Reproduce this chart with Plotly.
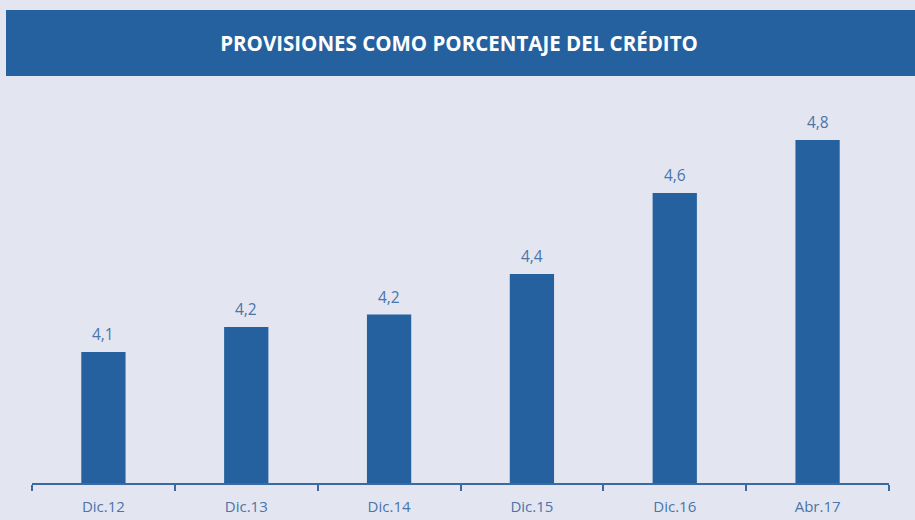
import plotly.graph_objects as go

categories = ["Dic.12", "Dic.13", "Dic.14", "Dic.15", "Dic.16", "Abr.17"]
values = [4.12, 4.20, 4.24, 4.37, 4.63, 4.80]
labels = ["4,1", "4,2", "4,2", "4,4", "4,6", "4,8"]
title_text = "PROVISIONES COMO PORCENTAJE DEL CRÉDITO"

BG = "#e3e6f1"
BAR = "#25619f"
TXT = "#4a74aa"

fig = go.Figure()
fig.add_trace(go.Bar(x=categories, y=values, marker=dict(color=BAR, line=dict(width=0)),
                     width=0.31, hoverinfo="skip"))

for c, v, t in zip(categories, values, labels):
    fig.add_annotation(x=c, y=v, text=t, showarrow=False, yanchor="bottom", yshift=5,
                       font=dict(family="Open Sans", size=15.5, color=TXT))

# title band
fig.add_shape(type="rect", xref="paper", yref="paper",
              x0=(6 - 32) / 857, x1=(916 - 32) / 857,
              y0=(483 - 76) / 393, y1=(483 - 10) / 393,
              fillcolor=BAR, line=dict(width=0), layer="below")

fig.update_layout(
    width=915, height=520,
    paper_bgcolor=BG, plot_bgcolor=BG,
    margin=dict(l=32, r=26, t=90, b=37),
    showlegend=False,
    title=dict(text="<b>" + title_text + "</b>", x=(459) / 915, xanchor="center", xref="container",
               y=1 - 44 / 520, yanchor="middle", yref="container",
               font=dict(family="Open Sans", size=20.5, color="white")),
    xaxis=dict(type="category", showgrid=False, showline=True, linecolor="#3b6aa2", linewidth=1.5,
               ticks="outside", ticklen=6, tickcolor="#3b6aa2", tickwidth=1.5, tickson="boundaries",
               ticklabelstandoff=9, automargin=False,
               tickfont=dict(family="Open Sans", size=15, color=TXT), zeroline=False),
    yaxis=dict(range=[3.7, 4.96], visible=False, showgrid=False, zeroline=False, automargin=False),
)

fig.write_html("out.html", config={"displayModeBar": False},
               post_script="document.body.style.margin='0px';document.body.style.background='" + BG + "';")
